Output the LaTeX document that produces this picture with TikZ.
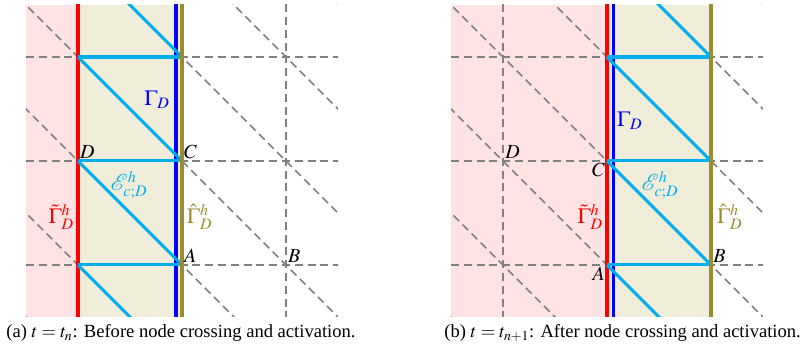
\documentclass[tikz,border=0pt]{standalone}
\usepackage{mathptmx}
\usepackage{mathrsfs}
\usepackage{fontspec}
\setmainfont{Liberation Serif}
\usepackage{tikz}
\usepackage{xcolor}

\definecolor{pinkbg}{RGB}{255,226,228}
\definecolor{beigebg}{RGB}{241,237,219}
\definecolor{olivel}{RGB}{153,142,46}
\definecolor{meshc}{RGB}{0,174,239}

\tikzset{
  grd/.style={draw=gray,line width=1pt,dash pattern=on 5pt off 3pt},
  mesh/.style={draw=meshc,line width=1.9pt},
  bnd/.style={line width=2.2pt},
  lbl/.style={inner sep=1.2pt,font=\fontsize{12.5}{15}\selectfont},
  bname/.style={font=\fontsize{13.5}{16}\selectfont},
  capt/.style={font=\fontsize{11.6}{14}\selectfont}
}

\begin{document}
\begin{tikzpicture}[x=65pt,y=65pt]
  \useasboundingbox (-0.75,-1.837) rectangle (6.981,1.548);
  % (a) t = t_n
  \foreach \x in {0,1,2}{\foreach \y [count=\r from 0] in {2,1,0,-1,-2}{\coordinate (a\x\r) at (\x,\y);}}
  \fill[pinkbg] (-0.5,-1.5) rectangle (0,1.5); \fill[beigebg] (0,-1.5) rectangle (1,1.5);
  \begin{scope}
    \clip (-0.5,-1.5) rectangle (2.5,1.5);
    \foreach \c in {-2,...,4} \draw[grd] (\c-2,2) -- (\c+2,-2);
    \foreach \r in {1,2,3} \draw[grd] (-0.5,3-\r-1) -- (2.5,3-\r-1);
    \foreach \x in {0,1,2} \draw[grd] (a\x0) -- (a\x4);
    \draw[bnd,red] (a00) -- (a04); \draw[bnd,blue] (0.94,2) -- (0.94,-2);
    \foreach \r in {1,2,3} \draw[mesh] (a0\r) -- (a1\r);
    \foreach \r [evaluate=\r as \s using int(\r+1)] in {0,...,3} \draw[mesh] (a0\r) -- (a1\s);
    \draw[bnd,olivel] (a10) -- (a14);
  \end{scope}
  \node[lbl,above right] (aD) at (a02) {$D$}; \node[lbl,above right] (aC) at (a12) {$C$};
  \node[lbl,above right] (aA) at (a13) {$A$}; \node[lbl,above right] (aB) at (a23) {$B$};
  \node[bname,blue] (aG) at (0.76,0.59) {$\Gamma_D$};
  \node[bname,red] (aGt) at (-0.16,-0.54) {$\tilde{\Gamma}^h_D$};
  \node[bname,olivel] (aGh) at (1.17,-0.54) {$\hat{\Gamma}^h_D$};
  \node[bname,meshc] (aE) at (0.49,-0.23) {$\mathscr{E}^h_{c;D}$};
  \node[capt] (capa) at (0.99,-1.654) {(a) $t = t_n$: Before node crossing and activation.};
  % (b) t = t_{n+1}
  \begin{scope}[xshift=265.65pt]
    \foreach \x in {0,1,2}{\foreach \y [count=\r from 0] in {2,1,0,-1,-2}{\coordinate (b\x\r) at (\x,\y);}}
    \fill[pinkbg] (-0.5,-1.5) rectangle (1,1.5); \fill[beigebg] (1,-1.5) rectangle (2,1.5);
    \begin{scope}
      \clip (-0.5,-1.5) rectangle (2.5,1.5);
      \foreach \c in {-2,...,4} \draw[grd] (\c-2,2) -- (\c+2,-2);
      \foreach \r in {1,2,3} \draw[grd] (-0.5,3-\r-1) -- (2.5,3-\r-1);
      \foreach \x in {0,1,2} \draw[grd] (b\x0) -- (b\x4);
      \draw[bnd,red] (b10) -- (b14); \draw[bnd,blue] (1.06,2) -- (1.06,-2);
      \foreach \r in {1,2,3} \draw[mesh] (b1\r) -- (b2\r);
      \foreach \r [evaluate=\r as \s using int(\r+1)] in {0,...,3} \draw[mesh] (b1\r) -- (b2\s);
      \draw[bnd,olivel] (b20) -- (b24);
    \end{scope}
    \node[lbl,above right] (bD) at (b02) {$D$}; \node[lbl,below left] (bC) at (b12) {$C$};
    \node[lbl,below left] (bA) at (b13) {$A$}; \node[lbl,above right] (bB) at (b23) {$B$};
    \node[bname,blue] (bG) at (1.22,0.385) {$\Gamma_D$};
    \node[bname,red] (bGt) at (0.84,-0.54) {$\tilde{\Gamma}^h_D$};
    \node[bname,olivel] (bGh) at (2.18,-0.54) {$\hat{\Gamma}^h_D$};
    \node[bname,meshc] (bE) at (1.51,-0.23) {$\mathscr{E}^h_{c;D}$};
    \node[capt] (capb) at (1.15,-1.654) {(b) $t = t_{n+1}$: After node crossing and activation.};
  \end{scope}
\end{tikzpicture}
\end{document}
